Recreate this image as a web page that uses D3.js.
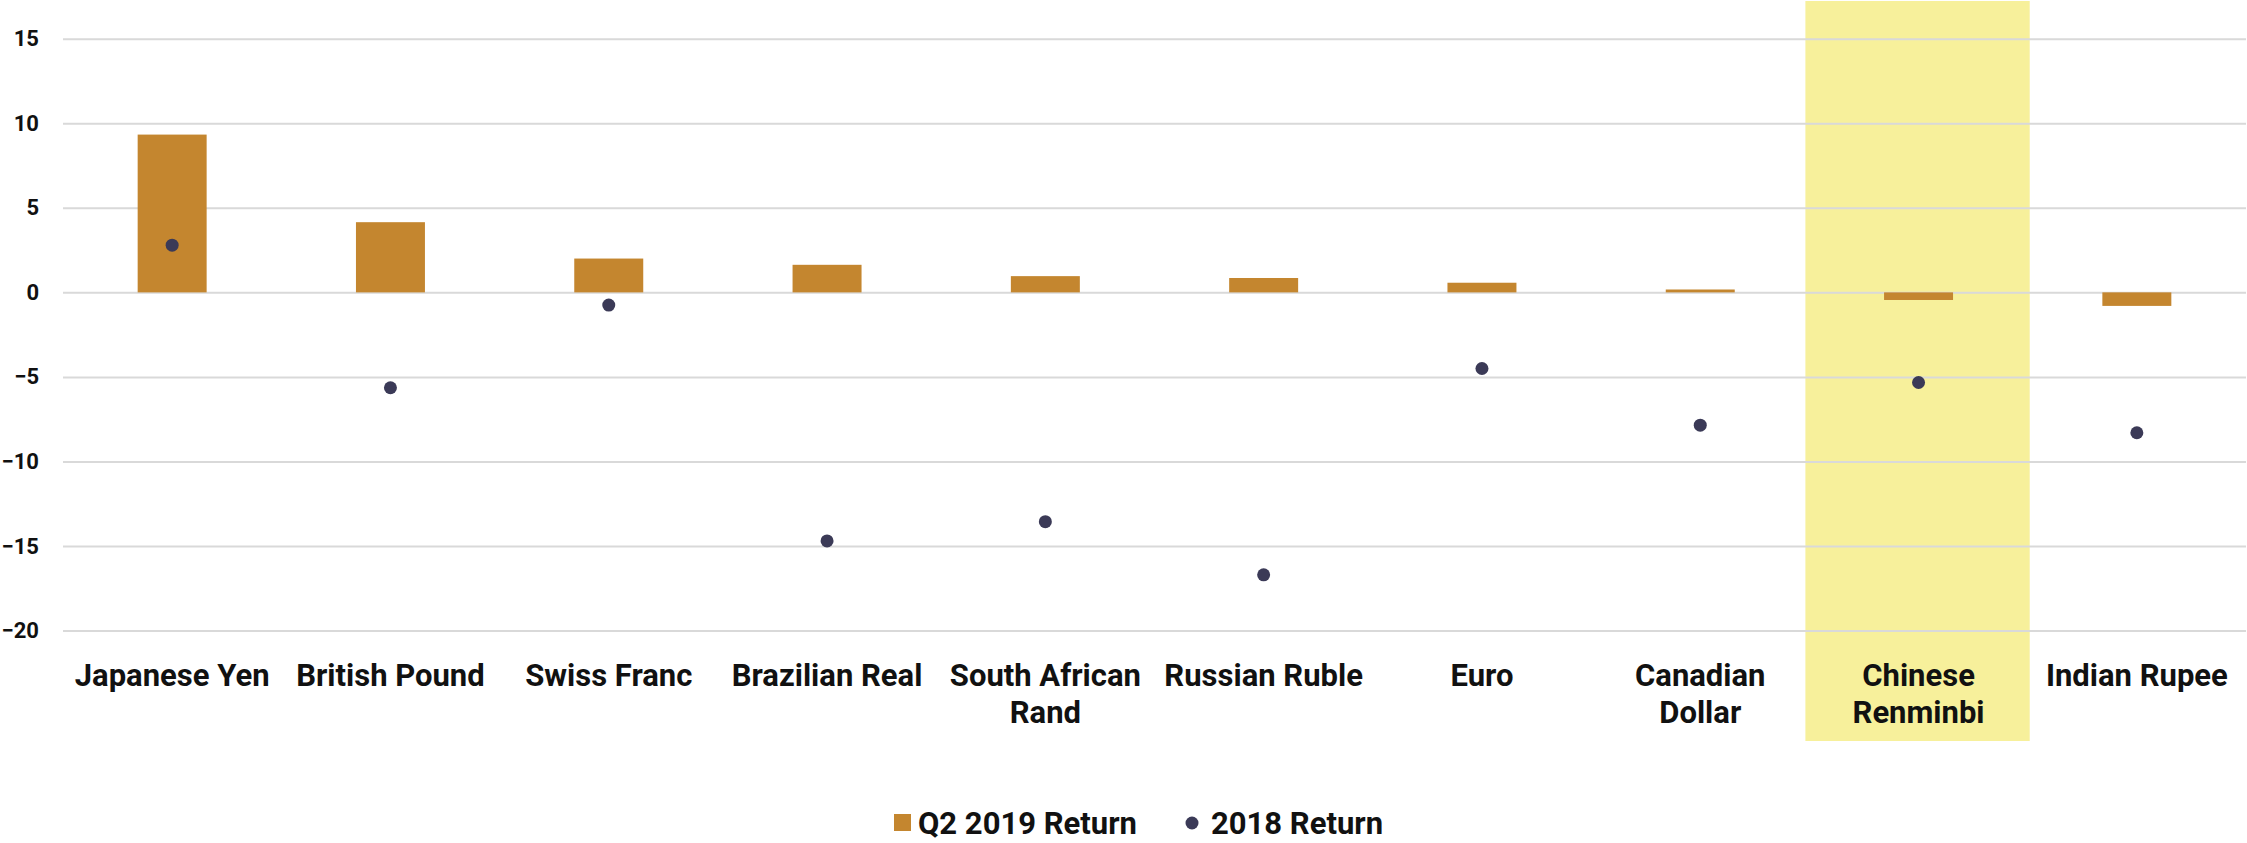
<!DOCTYPE html>
<html>
<head>
<meta charset="utf-8">
<script src="https://cdn.jsdelivr.net/npm/d3@7"></script>
<style>
  body { margin: 0; background: #fff; }
  svg { display: block; }
</style>
</head>
<body>
<svg width="2247" height="843"></svg>
<script>
// data
const currencies = ['Japanese Yen', 'British Pound', 'Swiss Franc', 'Brazilian Real', 'South African Rand',
  'Russian Ruble', 'Euro', 'Canadian Dollar', 'Chinese Renminbi', 'Indian Rupee'];
const tickLabels = ['Japanese Yen', 'British Pound', 'Swiss Franc', 'Brazilian Real', 'South African\nRand',
  'Russian Ruble', 'Euro', 'Canadian\nDollar', 'Chinese\nRenminbi', 'Indian Rupee'];
const q2Return = [9.33, 4.15, 2.0, 1.63, 0.96, 0.85, 0.57, 0.17, -0.45, -0.8];
const return2018 = [2.79, -5.64, -0.75, -14.7, -13.56, -16.7, -4.5, -7.85, -5.33, -8.3];
const yTicks = [15, 10, 5, 0, -5, -10, -15, -20];
const highlighted = 'Chinese Renminbi';
const seriesNames = ['Q2 2019 Return', '2018 Return'];

const barColor = '#c4862f';
const dotColor = '#3b3a57';
const gridColor = '#d9d9d9';
const highlightColor = '#f7f09b';
const font = 'Roboto';

const svg = d3.select('svg');
const left = 63, right = 2246;

const xScale = d3.scaleBand()
  .domain(currencies)
  .range([left, right]);
const yScale = d3.scaleLinear()
  .domain([-20, 15])
  .range([630.6, 38.7]);

// highlight column behind everything
svg.append('rect')
  .attr('x', xScale(highlighted) - 4)
  .attr('y', 1)
  .attr('width', xScale.bandwidth() + 6)
  .attr('height', 740)
  .attr('fill', highlightColor);

// y axis + gridlines
const yAxis = d3.axisLeft(yScale)
  .tickValues(yTicks)
  .tickSize(-(right - left))
  .tickPadding(24);
const yAxisG = svg.append('g')
  .attr('transform', `translate(${left},0)`)
  .call(yAxis);
yAxisG.select('.domain').remove();
yAxisG.selectAll('line')
  .attr('stroke', gridColor)
  .attr('stroke-width', 2);
yAxisG.selectAll('text')
  .attr('font-family', font)
  .attr('font-weight', 'bold')
  .attr('font-size', 22)
  .attr('fill', '#111');

// bars
const barW = xScale.bandwidth() * 0.316;
svg.append('g').selectAll('rect')
  .data(currencies)
  .join('rect')
    .attr('x', d => xScale(d) + (xScale.bandwidth() - barW) / 2)
    .attr('y', (d, i) => yScale(Math.max(0, q2Return[i])))
    .attr('width', barW)
    .attr('height', (d, i) => Math.abs(yScale(q2Return[i]) - yScale(0)))
    .attr('fill', barColor);

// dots
svg.append('g').selectAll('circle')
  .data(currencies)
  .join('circle')
    .attr('cx', d => xScale(d) + xScale.bandwidth() / 2)
    .attr('cy', (d, i) => yScale(return2018[i]))
    .attr('r', 6.5)
    .attr('fill', dotColor);

// x axis labels
const xAxis = d3.axisBottom(xScale).tickSize(0).tickFormat('');
const xAxisG = svg.append('g')
  .attr('transform', 'translate(0,686)')
  .call(xAxis);
xAxisG.select('.domain').remove();
xAxisG.selectAll('.tick').each(function(d, i) {
  const t = d3.select(this).append('text')
    .attr('text-anchor', 'middle')
    .attr('font-family', font)
    .attr('font-weight', 'bold')
    .attr('font-size', 31)
    .attr('fill', '#111');
  tickLabels[i].split('\n').forEach((line, j) => {
    t.append('tspan').attr('x', 0).attr('y', j * 37).text(line);
  });
});

// legend
const legend = svg.append('g').attr('transform', 'translate(0,823)');
legend.append('rect')
  .attr('x', 894).attr('y', -9).attr('width', 17).attr('height', 17)
  .attr('fill', barColor);
legend.append('text')
  .attr('x', 918).attr('y', 11)
  .attr('font-family', font).attr('font-weight', 'bold').attr('font-size', 31)
  .attr('fill', '#111')
  .text(seriesNames[0]);
legend.append('circle')
  .attr('cx', 1192).attr('cy', 0).attr('r', 6.5)
  .attr('fill', dotColor);
legend.append('text')
  .attr('x', 1211).attr('y', 11)
  .attr('font-family', font).attr('font-weight', 'bold').attr('font-size', 31)
  .attr('fill', '#111')
  .text(seriesNames[1]);
</script>
</body>
</html>
